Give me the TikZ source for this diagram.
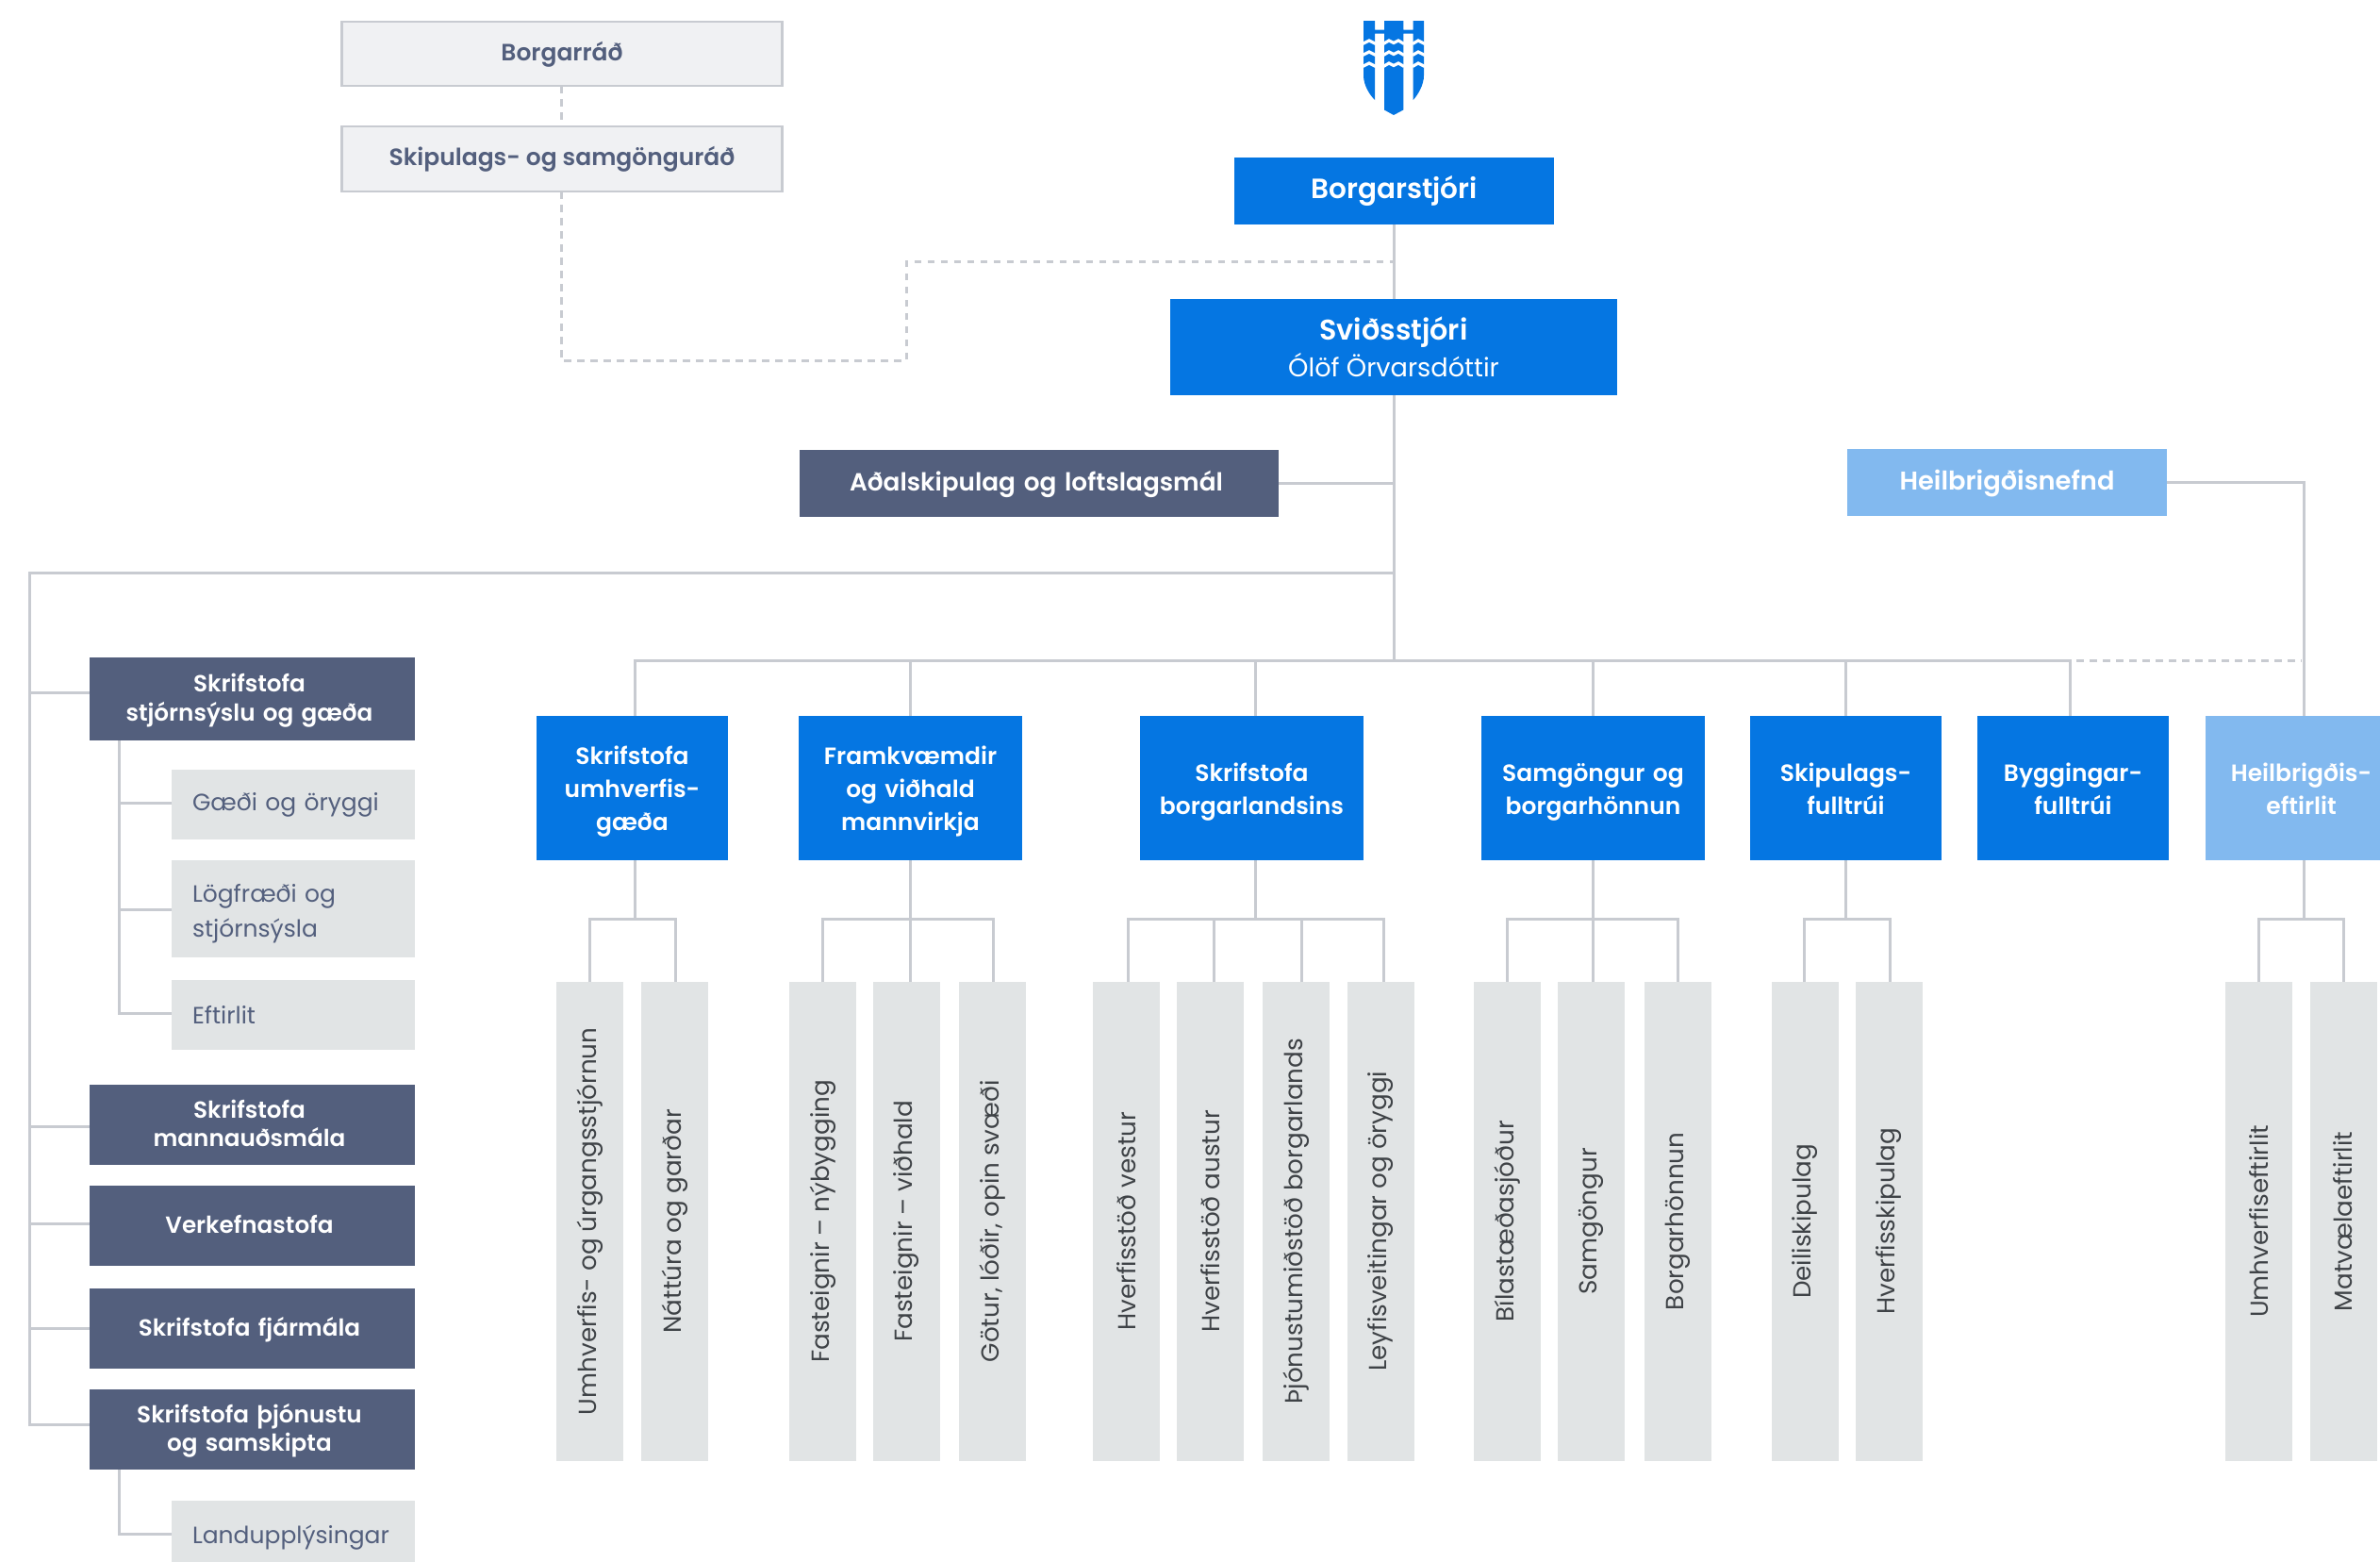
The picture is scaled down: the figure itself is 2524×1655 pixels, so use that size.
\documentclass[tikz,border=0pt]{standalone}
\usepackage{fontspec}
\setmainfont{Poppins}[BoldFont={Poppins SemiBold}]
\definecolor{cityblue}{HTML}{0576E2}
\definecolor{skyblue}{HTML}{82B9EF}
\definecolor{slateblue}{HTML}{535F7D}
\definecolor{palegrey}{HTML}{E1E4E5}
\definecolor{paleface}{HTML}{F0F1F3}
\definecolor{linegrey}{HTML}{C8CBD1}
\definecolor{bartext}{HTML}{3F4347}
\newcommand{\linestrut}{\rule{0pt}{.7\baselineskip}}
\tikzset{
  flatbox/.style={inner sep=0pt, outer sep=0pt, align=center},
  headbox/.style={flatbox, execute at begin node=\linestrut, execute at end node=\linestrut},
  bluebox/.style={headbox, fill=cityblue, text=white, font=\fontsize{25}{35}\selectfont\bfseries},
  skybox/.style={bluebox, fill=skyblue},
  deptbox/.style={flatbox, fill=cityblue, text=white, text width=#1, minimum height=153pt, font=\fontsize{25}{35}\selectfont\bfseries,
    execute at begin node={\rule{0pt}{\dimexpr.7\baselineskip+3.5pt\relax}}, execute at end node={\rule[-8pt]{0pt}{1pt}}},
  slatebox/.style={flatbox, fill=slateblue, text=white, text width=345pt, font=\fontsize{24.7}{30.5}\selectfont\bfseries,
    execute at begin node={\leftskip=0pt plus 1fil\rightskip=6pt plus 1fil\parfillskip=0pt\relax\rule{0pt}{\dimexpr.7\baselineskip+3pt\relax}},
    execute at end node={\rule[-8pt]{0pt}{1pt}}},
  boardbox/.style={headbox, fill=paleface, draw=linegrey, line width=2.5pt, text=slateblue, font=\fontsize{25}{30}\selectfont\bfseries},
  subbox/.style={flatbox, fill=palegrey, text=slateblue, minimum width=258pt, text width=214pt, align=left, font=\fontsize{25}{37}\selectfont},
  barbox/.style={flatbox, fill=palegrey, text=bartext, minimum width=71pt, minimum height=507.6pt, font=\fontsize{26.2}{30}\selectfont},
  link/.style={draw=linegrey, line width=3pt},
  dashlink/.style={link, dash pattern=on 7.5pt off 6.5pt},
}
\begin{document}
\begin{tikzpicture}[x=1pt, y=-1pt]
  \useasboundingbox (0,0) rectangle (2524,1655);

  % crest
  \fill[cityblue] (1446,22) -- (1458,22) -- (1458,31.7) -- (1468,31.7) -- (1468,22) -- (1488.3,22) -- (1488.3,31.7)
    -- (1498.7,31.7) -- (1498.7,22) -- (1510,22) -- (1510,80) .. controls (1510,90) and (1504,100) .. (1498.7,106)
    -- (1498.7,35.7) -- (1488.3,35.7) -- (1488.3,116.5) -- (1478,122) -- (1468,116.5) -- (1468,35.7) -- (1458,35.7)
    -- (1458,106) .. controls (1452,100) and (1446,90) .. (1446,80) -- cycle;
  \foreach \lev in {44.5,56.5,68.5} {
    \draw[white, line width=3.2pt] (1445,\lev+2) -- (1452,\lev-1.5) -- (1459,\lev+2);
    \draw[white, line width=3.2pt] (1467,\lev+2) -- (1473,\lev-1.5) -- (1478,\lev+1) -- (1483,\lev-1.5) -- (1489,\lev+2);
    \draw[white, line width=3.2pt] (1498,\lev+2) -- (1504,\lev-1.5) -- (1511,\lev+2);
  }

  % top row
  \node[boardbox, minimum width=467pt, minimum height=68pt] (raad) at (596,57) {Borgarráð};
  \node[boardbox, minimum width=467pt, minimum height=69pt] (skipraad) at (596,168.5) {Skipulags- og samgönguráð};
  \node[bluebox, minimum width=339pt, minimum height=71pt, font=\fontsize{29.5}{35}\selectfont\bfseries] (stjori) at (1478.5,202.5) {Borgarstjóri};
  \node[bluebox, minimum width=474pt, minimum height=102pt, font=\fontsize{30.2}{40}\selectfont\bfseries] (svid) at (1478,368) {Sviðsstjóri\\[-1pt]{\fontsize{27.2}{34}\selectfont\mdseries Ólöf Örvarsdóttir}};
  \node[slatebox, text width=508pt, minimum height=71pt, font=\fontsize{26.3}{30}\selectfont\bfseries] (adal) at (1102,512) {Aðalskipulag og loftslagsmál};
  \node[skybox, minimum width=339pt, minimum height=71pt, font=\fontsize{27.3}{35}\selectfont\bfseries] (nefnd) at (2128.5,511) {Heilbrigðisnefnd};

  % left column
  \node[slatebox, minimum height=88pt] (stjorn) at (267.5,741) {Skrifstofa\\stjórnsýslu og gæða};
  \node[subbox, minimum height=74pt] (gaedi) at (311,853) {Gæði og öryggi};
  \node[subbox, minimum height=103pt] (logf) at (311,963.5) {\rule{0pt}{29.6pt}Lögfræði og\\stjórnsýsla};
  \node[subbox, minimum height=74pt] (eftir) at (311,1075.5) {Eftirlit};
  \node[slatebox, minimum height=85pt] (mann) at (267.5,1192.5) {Skrifstofa\\mannauðsmála};
  \node[slatebox, minimum height=85pt] (verk) at (267.5,1299.5) {Verkefnastofa};
  \node[slatebox, minimum height=85pt] (fjar) at (267.5,1408.5) {Skrifstofa fjármála};
  \node[slatebox, minimum height=85pt] (thjon) at (267.5,1515.5) {Skrifstofa þjónustu\\og samskipta};
  \node[subbox, minimum height=78pt] (land) at (311,1630) {Landupplýsingar};

  % departments
  \node[deptbox=203pt] (umhv) at (670.5,835.5) {Skrifstofa\\umhverfis-\\gæða};
  \node[deptbox=237pt] (frkv) at (965.5,835.5) {Framkvæmdir\\og viðhald\\mannvirkja};
  \node[deptbox=237pt] (borgl) at (1327.5,835.5) {Skrifstofa\\borgarlandsins};
  \node[deptbox=237pt] (samg) at (1689.5,835.5) {Samgöngur og\\borgarhönnun};
  \node[deptbox=203pt] (skipf) at (1957.5,835.5) {Skipulags-\\fulltrúi};
  \node[deptbox=203pt] (bygg) at (2198.5,835.5) {Byggingar-\\fulltrúi};
  \node[deptbox=203pt, fill=skyblue] (heil) at (2440.5,835.5) {Heilbrigðis-\\eftirlit};

  % bars
  \foreach \nm/\xx/\txt in {
    ba/625.5/Umhverfis- og úrgangsstjórnun, bb/715.5/Náttúra og garðar,
    bc/872.5/Fasteignir – nýbygging, bd/961.5/Fasteignir – viðhald, be/1052.5/{Götur, lóðir, opin svæði},
    bf/1194.5/Hverfisstöð vestur, bg/1283.5/Hverfisstöð austur, bh/1374.5/Þjónustumiðstöð borgarlands, bi/1464.5/Leyfisveitingar og öryggi,
    bj/1598.5/Bílastæðasjóður, bk/1687.5/Samgöngur, bl/1779.5/Borgarhönnun,
    bm/1914.5/Deiliskipulag, bn/2003.5/Hverfisskipulag,
    bo/2395.5/Umhverfiseftirlit, bp/2485/Matvælaeftirlit}
    \node[barbox] (\nm) at (\xx,1294.8) {\rotatebox{90}{\txt}};

  % helper points
  \coordinate (topbus) at (1478.5,700);
  \coordinate (frametop) at (1478.5,607);
  \coordinate (framebot) at (31,1510);
  \coordinate (dashA) at (961,382);
  \coordinate (dashB) at (961,277.5);
  \coordinate (dashC) at (1478.5,277.5);
  \coordinate (dashD) at (2202,700);
  \coordinate (dashE) at (2441,700);
  \coordinate (heilrun) at (2443,759);

  % connectors
  \draw[dashlink] ([xshift=-1pt]raad.south) -- ([xshift=-1pt]skipraad.north);
  \draw[dashlink] ([xshift=-1pt]skipraad.south) |- (dashA) -- (dashB) -- (dashC);
  \draw[link] (stjori.south) -- (svid.north -| stjori.south);
  \draw[link] (svid.south -| stjori.south) -- (topbus);
  \draw[link] (adal.east) -- (adal.east -| topbus);
  \draw[link] (frametop) -| (framebot) -- (framebot -| thjon.west);
  \foreach \nm/\yy in {stjorn/734, mann/1194, verk/1297.5, fjar/1408}
    \draw[link] (\nm.west |- 0,\yy) -- (framebot |- 0,\yy);
  \draw[link] ([xshift=-141pt]stjorn.south) |- (eftir.west |- 0,1074);
  \draw[link] (gaedi.west |- 0,851) -- (126.5,851);
  \draw[link] (logf.west |- 0,964) -- (126.5,964);
  \draw[link] ([xshift=-141pt]thjon.south) |- (land.west |- 0,1626.5);

  % bus to departments
  \draw[link] ([xshift=2.5pt]umhv.north) |- (topbus) -| ([xshift=-3pt]bygg.north);
  \draw[dashlink] (dashD) -- (dashE);
  \draw[link] (frkv.north |- topbus) -- (frkv.north);
  \draw[link] (borgl.north -| 1331,0) -- (topbus -| 1331,0);
  \draw[link] (samg.north |- topbus) -- (samg.north);
  \draw[link] (skipf.north |- topbus) -- (skipf.north);
  \draw[link] (nefnd.east) -| (heilrun);

  % departments to bars
  \foreach \from/\stem/\first/\dxa/\last/\dxb in {
    umhv/673/ba/-0.5/bb/0.5, frkv/965/bc/-0.5/be/0.5, borgl/1331/bf/1.5/bi/2.5,
    samg/1689.5/bj/0/bl/0, skipf/1957/bm/-1/bn/0.5, heil/2443/bo/-0.5/bp/0.5} {
    \draw[link] (\from.south -| \stem,0) -- (\stem,974);
    \draw[link] ([xshift=\dxa pt]\first.north) |- (\stem,974) -| ([xshift=\dxb pt]\last.north);
  }
  \draw[link] ([xshift=3.5pt]bd.north) -- ([xshift=3.5pt]bd.north |- 0,974);
  \draw[link] ([xshift=3.5pt]bg.north) -- ([xshift=3.5pt]bg.north |- 0,974);
  \draw[link] ([xshift=5.5pt]bh.north) -- ([xshift=5.5pt]bh.north |- 0,974);
  \draw[link] ([xshift=2pt]bk.north) -- ([xshift=2pt]bk.north |- 0,974);
\end{tikzpicture}
\end{document}
